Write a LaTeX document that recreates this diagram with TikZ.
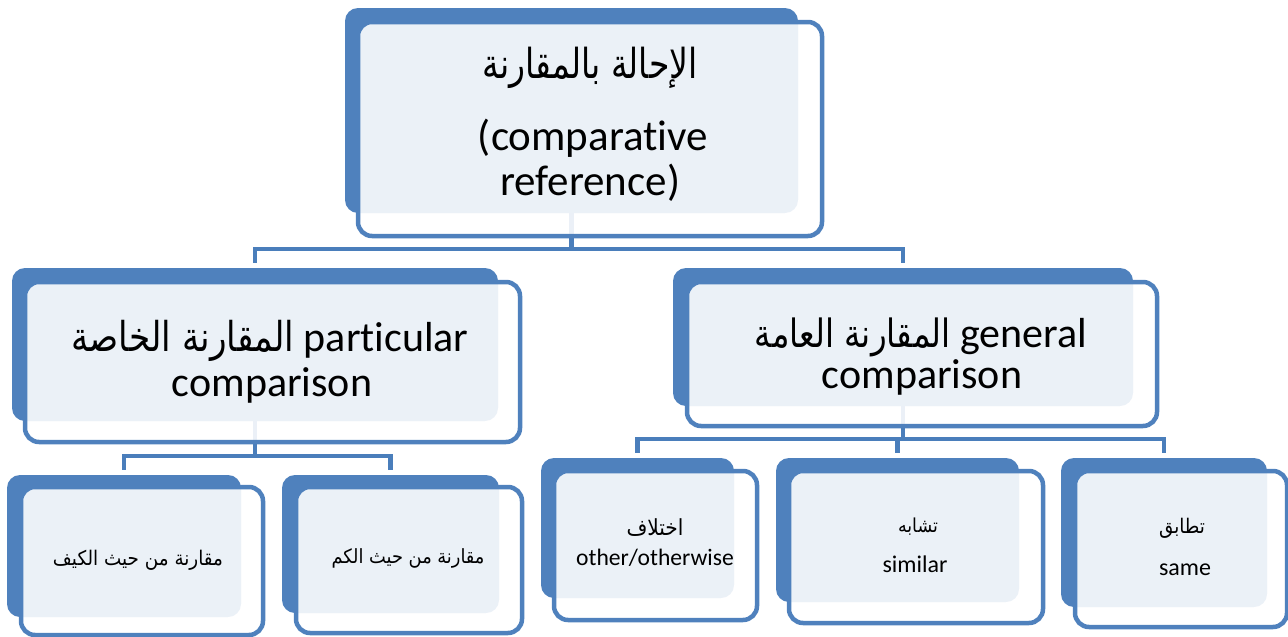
\documentclass[tikz,border=0pt]{standalone}
\usepackage{graphicx}
\usepackage{fontspec}
\setmainfont{Carlito}[Ligatures=NoCommon]
\newfontfamily\arabicfont[Script=Arabic]{DejaVu Sans}
\TeXXeTstate=1
\usetikzlibrary{fit}
\definecolor{accent}{HTML}{4F81BD}
\definecolor{linkblue}{HTML}{4A7EBB}
\pgfdeclarelayer{links}
\pgfsetlayers{links,main}
% Arabic phrase scaled to a given width, with an extra vertical factor
\newcommand\artxt[3][1]{\scalebox{1}[#1]{\resizebox{#2}{!}{\arabicfont\fontsize{30}{36}\selectfont #3}}}

\begin{document}
\begin{tikzpicture}[x=1pt,y=-1pt,
  backbox/.style={fill=accent, draw=none, rounded corners=13pt, inner sep=0pt},
  frontbox/.style={fill=white, fill opacity=0.89, draw=accent, draw opacity=1,
                   line width=4.5pt, rounded corners=14pt, inner sep=0pt},
  link/.style={draw=linkblue, line width=4.5pt, shorten >=5pt},
  bigtext/.style={font=\fontsize{43}{45}\selectfont, anchor=base, inner sep=0pt},
  midtext/.style={font=\fontsize{42}{45}\selectfont, anchor=base, inner sep=0pt},
  smalltext/.style={font=\fontsize{24}{28}\selectfont, anchor=base, inner sep=0pt}]

\useasboundingbox (0,0) rectangle (1288,637);

% root
\node[backbox, fit={(345,8)(798,213)}] (rootB) {};
\node[frontbox, fit={(358,22)(822,236)}] (root) {};
\node[bigtext] (rootAr) at (590,78) {\artxt[1.25]{215pt}{\beginR الإحالة بالمقارنة\endR}};
\node[bigtext] (rootEn1) at (593,150) {(comparative};
\node[bigtext] (rootEn2) at (590,195) {reference)};

% particular comparison
\node[backbox, fit={(12,268)(498,421)}] (partB) {};
\node[frontbox, fit={(25,282)(520,442)}] (part) {};
\node[midtext] (partL1) at (270,351) {\artxt[1.2]{223pt}{\beginR المقارنة الخاصة\endR} particular};
\node[midtext] (partL2) at (272,396) {comparison};

% general comparison
\node[backbox, fit={(673,268)(1133,406)}] (genB) {};
\node[frontbox, fit={(687,282)(1157,426)}] (gen) {};
\node[midtext] (genL1) at (921,347) {\artxt[1.2]{196pt}{\beginR المقارنة العامة\endR} general};
\node[midtext] (genL2) at (922,388) {comparison};

% comparison by quality
\node[backbox, fit={(7,475)(241,617)}] (qualB) {};
\node[frontbox, fit={(21,487)(263,635)}] (qual) {};
\node[smalltext] (qualT) at (138,565) {\artxt[1.1]{170pt}{\beginR مقارنة من حيث الكيف\endR}};

% comparison by quantity
\node[backbox, fit={(282,475)(499,613)}] (quantB) {};
\node[frontbox, fit={(296,487)(522,633)}] (quant) {};
\node[smalltext] (quantT) at (408,563) {\artxt[1.1]{153pt}{\beginR مقارنة من حيث الكم\endR}};

% other / otherwise
\node[backbox, fit={(541,458)(734,598)}] (otherB) {};
\node[frontbox, fit={(554,471)(757,620)}] (other) {};
\node[smalltext] (otherAr) at (655,535) {\artxt[1.1]{57pt}{اختلاف}};
\node[smalltext, font=\fontsize{23.6}{28}\selectfont] (otherEn) at (655,565) {other/otherwise};

% similar
\node[backbox, fit={(776,458)(1019,602)}] (simB) {};
\node[frontbox, fit={(789,471)(1043,623)}] (sim) {};
\node[smalltext] (simAr) at (918,532) {\artxt[1.1]{40pt}{تشابه}};
\node[smalltext] (simEn) at (915,572) {similar};

% same
\node[backbox, fit={(1061,458)(1267,607)}] (sameB) {};
\node[frontbox, fit={(1075,471)(1287,627)}] (same) {};
\node[smalltext] (sameAr) at (1182,533) {\artxt[1.1]{46pt}{تطابق}};
\node[smalltext] (sameEn) at (1185,575) {same};

% bus levels of the tree connectors
\coordinate (busRoot) at (0,249);
\coordinate (busPart) at (0,456);
\coordinate (busGen) at (0,439);

\begin{pgfonlayer}{links}
  \draw[link] (rootB.south) -- (rootB.south |- busRoot) -| (partB.north);
  \draw[link] (rootB.south |- busRoot) -| (genB.north);
  \draw[link] (partB.south) -- (partB.south |- busPart) -| (qualB.north);
  \draw[link] (partB.south |- busPart) -| (quantB.north);
  \draw[link] (genB.south) -- (genB.south |- busGen) -| (otherB.north);
  \draw[link] (genB.south |- busGen) -| (simB.north);
  \draw[link] (genB.south |- busGen) -| (sameB.north);
\end{pgfonlayer}
\end{tikzpicture}
\end{document}
